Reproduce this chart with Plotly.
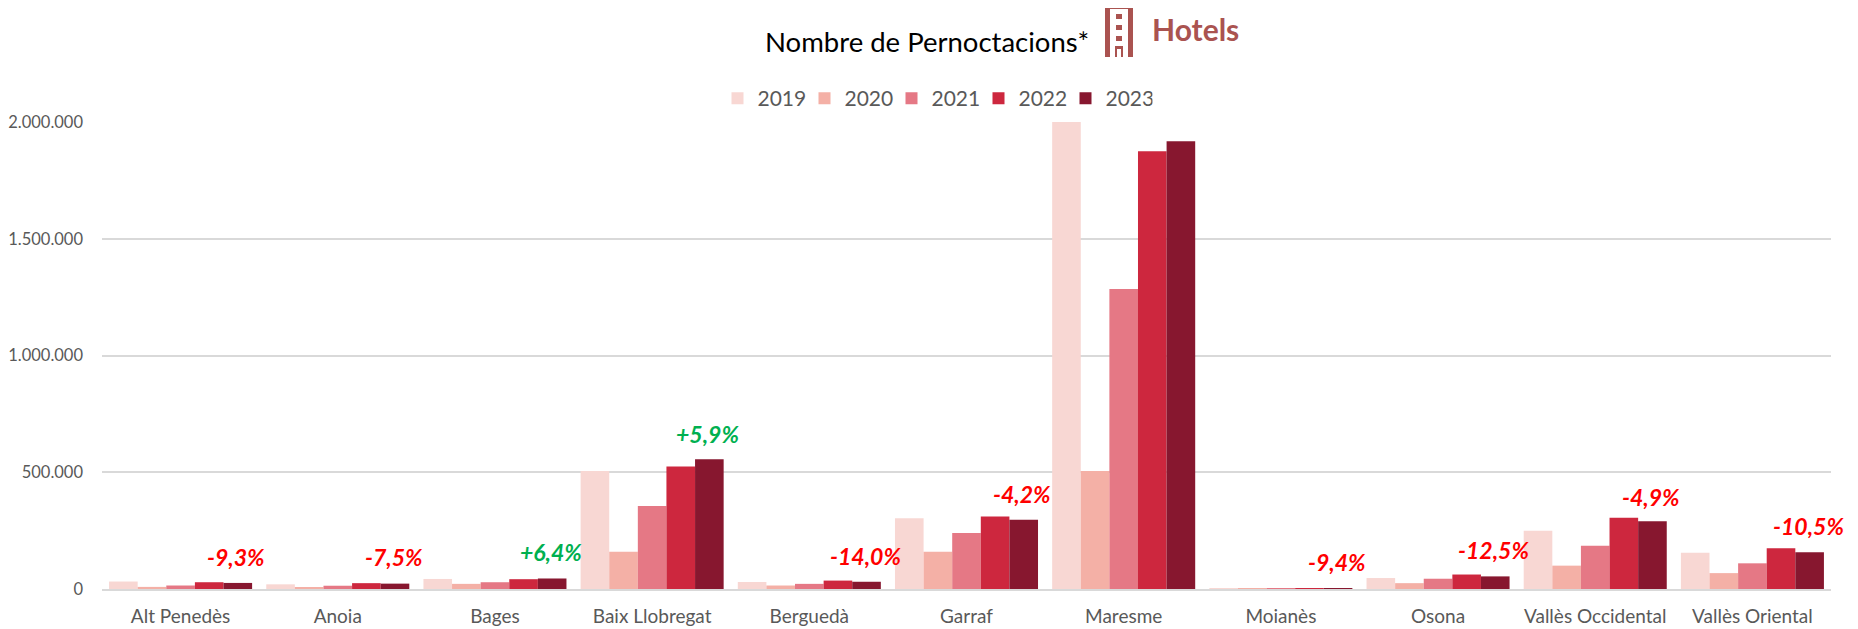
import plotly.graph_objects as go

categories = ["Alt Penedès", "Anoia", "Bages", "Baix Llobregat", "Berguedà", "Garraf",
              "Maresme", "Moianès", "Osona", "Vallès Occidental", "Vallès Oriental"]
v2019 = [32000, 20000, 43000, 505000, 30000, 303000, 2000000, 1000, 47000, 250000, 155000]
v2020 = [9000, 8000, 22000, 160000, 15000, 160000, 505000, 500, 25000, 100000, 68000]
v2021 = [15000, 14000, 29000, 355000, 22000, 240000, 1285000, 900, 44000, 185000, 110000]
v2022 = [29000, 25000, 42000, 525000, 36000, 310000, 1875000, 1400, 62000, 305000, 175000]
v2023 = [26000, 23000, 45000, 556000, 31000, 297000, 1918000, 1270, 54000, 290000, 157000]
years = ["2019", "2020", "2021", "2022", "2023"]
colors = ["#F8D7D3", "#F4B0A6", "#E57885", "#CD273E", "#87172F"]
change_labels = ["-9,3%", "-7,5%", "+6,4%", "+5,9%", "-14,0%", "-4,2%", "+2,3%", "-9,4%", "-12,5%", "-4,9%", "-10,5%"]
label_y = [137000, 137000, 157000, 665000, 142000, 406000, 2020000, 117000, 167000, 395000, 269000]
y_ticks = [0, 500000, 1000000, 1500000, 2000000]
y_tick_text = ["0", "500.000", "1.000.000", "1.500.000", "2.000.000"]

FONT = "Lato, 'Open Sans', sans-serif"
GREY = "#595959"
ICON = "#AA5350"
# plot box in page pixels (page body has an 8px margin)
L, R, T, B = 102, 1831, 122, 589
CW, CH = 1850, 621


def px(x):
    return (x - L) / (R - L)


def py(y):
    return (B - y) / (B - T)


fig = go.Figure()
for name, vals, col in zip(years, [v2019, v2020, v2021, v2022, v2023], colors):
    fig.add_bar(name=name, x=categories, y=vals, marker=dict(color=col, line=dict(width=0)))

for i, (lab, yy) in enumerate(zip(change_labels, label_y)):
    fig.add_annotation(x=i + 0.355, y=yy, xref="x", yref="y", text=f"<b><i>{lab}</i></b>", showarrow=False,
                       font=dict(family=FONT, size=23, color="#00B050" if lab.startswith("+") else "#FF0000"))

fig.add_annotation(x=px(763), y=py(41), xref="paper", yref="paper", xanchor="left", yanchor="middle",
                   text="Nombre de Pernoctacions*", showarrow=False,
                   font=dict(family=FONT, size=27.5, color="#000000"))
fig.add_annotation(x=px(1150), y=py(29), xref="paper", yref="paper", xanchor="left", yanchor="middle",
                   text="<b>Hotels</b>", showarrow=False, font=dict(family=FONT, size=30, color=ICON))


def rect(x0, y0, x1, y1):
    fig.add_shape(type="rect", xref="paper", yref="paper", x0=px(x0), x1=px(x1), y0=py(y0), y1=py(y1),
                  fillcolor=ICON, line=dict(width=0), layer="above")


rect(1105, 5, 1133, 9)    # top
rect(1105, 5, 1110, 57)   # left
rect(1128, 5, 1133, 57)   # right
rect(1115, 46, 1123, 49)  # door lintel
rect(1115, 46, 1117, 57)
rect(1121, 46, 1123, 57)
for yy in (14, 25, 36):
    rect(1116, yy, 1122, yy + 5)

fig.update_layout(
    width=CW, height=CH, autosize=False,
    margin=dict(l=L - 8, r=CW + 8 - R, t=T - 8, b=CH + 8 - B, pad=0, autoexpand=False),
    paper_bgcolor="white", plot_bgcolor="white",
    barmode="group", bargap=0.09, bargroupgap=0,
    font=dict(family=FONT, color=GREY, size=16),
    showlegend=True,
    legend=dict(orientation="h", x=px(935), xanchor="center", y=py(119), yanchor="bottom",
                font=dict(size=21, color=GREY), traceorder="normal",
                entrywidth=42, entrywidthmode="pixels"),
    xaxis=dict(type="category", range=[-0.5, 10.5], showgrid=False, showline=True, linecolor="#D9D9D9",
               linewidth=2, ticks="", tickfont=dict(size=19, color=GREY), ticklabelstandoff=9,
               automargin=False),
    yaxis=dict(range=[0, 2000000], tickvals=y_ticks, ticktext=y_tick_text, showgrid=True,
               gridcolor="#D9D9D9", gridwidth=1.5, zeroline=False, ticks="",
               tickfont=dict(size=16.5, color=GREY), ticklabelstandoff=18, automargin=False),
)
fig.write_html("out.html")
